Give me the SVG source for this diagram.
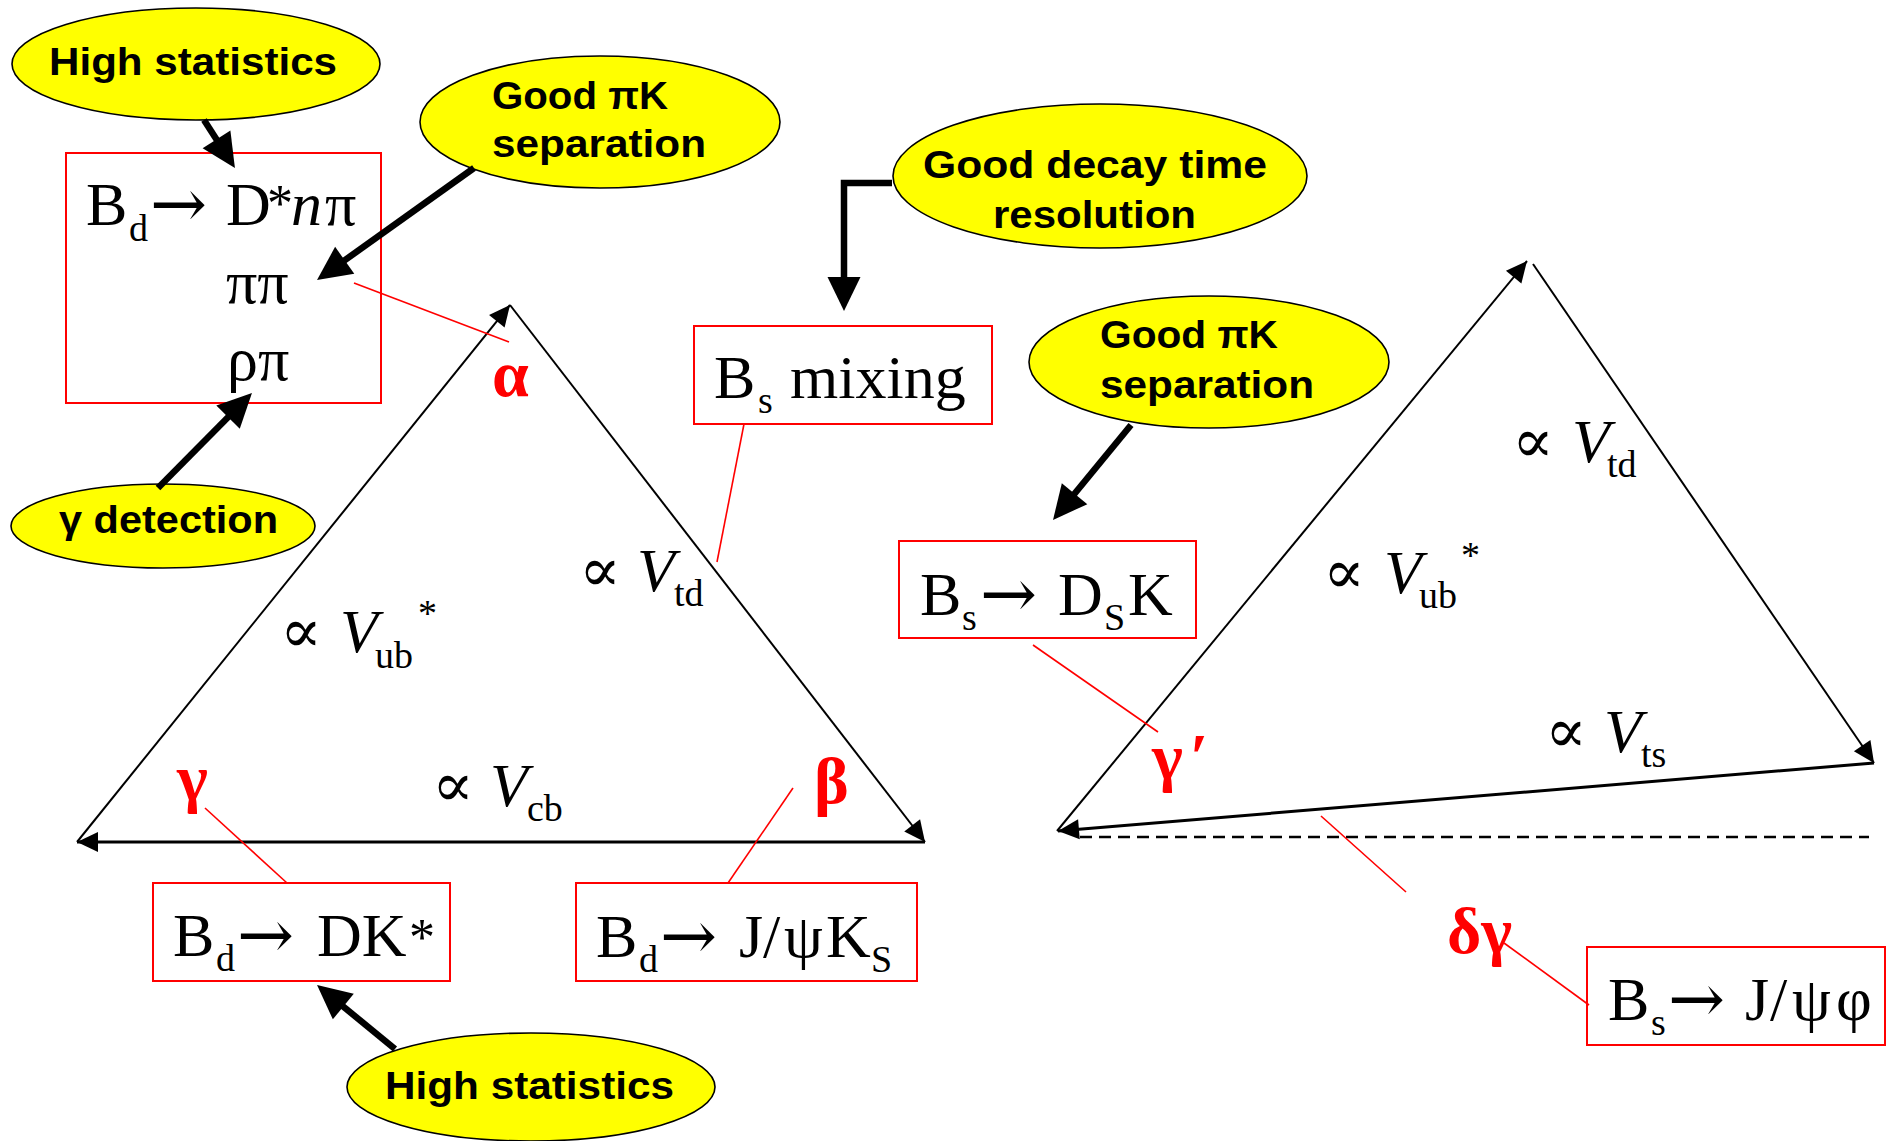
<svg xmlns="http://www.w3.org/2000/svg" width="1886" height="1141" viewBox="0 0 1886 1141">
<style>
.ell{fill:#ffff00;stroke:#000;stroke-width:1.6}
.lbl{font-family:"Liberation Sans",Arial,sans-serif;font-weight:bold;font-size:38px;fill:#000}
.box{fill:#fff;stroke:#ff0000;stroke-width:2}
.tm{font-family:"Liberation Serif","DejaVu Serif",serif;font-size:62px;fill:#000}
.arr{font-family:"DejaVu Serif","Liberation Serif",serif;font-size:68px}
.sub{font-size:38px}
.ast{font-size:52px}
.it{font-style:italic}
.red{font-family:"Liberation Serif","DejaVu Serif",serif;font-weight:bold;font-size:66px;fill:#ff0000}
.big{stroke:#000;stroke-width:6.5;fill:none;marker-end:url(#bigHead)}
.tri{stroke:#000;stroke-width:2;fill:none;marker-end:url(#thinHead)}
.base{stroke:#000;stroke-width:3;fill:none;marker-end:url(#thinHead)}
.rl{stroke:#ff0000;stroke-width:1.6;fill:none}
</style>
<defs>
<marker id="bigHead" markerUnits="userSpaceOnUse" markerWidth="34" markerHeight="33" viewBox="0 0 34 33" refX="14" refY="16.5" orient="auto" overflow="visible"><path d="M0,0 L34,16.5 L0,33 z" fill="#000"/></marker>
<marker id="thinHead" markerUnits="userSpaceOnUse" markerWidth="21" markerHeight="20" viewBox="0 0 21 20" refX="21" refY="10" orient="auto" overflow="visible"><path d="M0,0 L21,10 L0,20 z" fill="#000"/></marker>
</defs>
<rect width="1886" height="1141" fill="#fff"/>

<g id="triangle-bd">
<line class="tri" x1="77" y1="842" x2="510" y2="305"/>
<line class="tri" x1="510" y1="305" x2="925" y2="842"/>
<line class="base" x1="925" y1="842" x2="77" y2="842"/>
<text class="tm" y="591"><tspan x="579">∝</tspan><tspan x="637" class="it">V</tspan><tspan x="674" y="606" class="sub">td</tspan></text>
<text class="tm" y="652"><tspan x="280">∝</tspan><tspan x="340" class="it">V</tspan><tspan x="375" y="668" class="sub">ub</tspan><tspan x="418" y="626" class="sub">*</tspan></text>
<text class="tm" y="806"><tspan x="432">∝</tspan><tspan x="490" class="it">V</tspan><tspan x="527" y="821" class="sub">cb</tspan></text>
<text class="red" x="492" y="396">α</text>
<text class="red" x="177" y="800">γ</text>
<text class="red" x="814" y="803">β</text>
</g>

<g id="triangle-bs">
<line class="tri" x1="1057" y1="831" x2="1527" y2="261"/>
<line class="tri" x1="1533" y1="264" x2="1874" y2="763"/>
<line class="base" x1="1874" y1="763" x2="1058" y2="831"/>
<line x1="1080" y1="837" x2="1869" y2="837" stroke="#000" stroke-width="2.5" stroke-dasharray="12,7"/>
<text class="tm" y="462"><tspan x="1512">∝</tspan><tspan x="1572" class="it">V</tspan><tspan x="1607" y="477" class="sub">td</tspan></text>
<text class="tm" y="593"><tspan x="1323">∝</tspan><tspan x="1384" class="it">V</tspan><tspan x="1419" y="608" class="sub">ub</tspan><tspan x="1461" y="568" class="sub">*</tspan></text>
<text class="tm" y="752"><tspan x="1545">∝</tspan><tspan x="1604" class="it">V</tspan><tspan x="1641" y="767" class="sub">ts</tspan></text>
<text class="red" x="1152" y="779">γ<tspan x="1190">′</tspan></text>
<text class="red" x="1447" y="953">δγ</text>
</g>

<g id="box-bd-dstar">
<rect class="box" x="66" y="153" width="315" height="250"/>
<text class="tm" y="225"><tspan x="86">B</tspan><tspan x="129" y="241" class="sub">d</tspan><tspan x="150" y="227" class="arr">→</tspan><tspan x="226" y="225">D</tspan><tspan x="267" y="221" class="ast">*</tspan><tspan x="291" y="225" class="it">n</tspan><tspan x="325">π</tspan><tspan x="226" y="303">ππ</tspan><tspan x="227" y="380">ρπ</tspan></text>
</g>

<g id="box-bs-mixing">
<rect class="box" x="694" y="326" width="298" height="98"/>
<text class="tm" y="398"><tspan x="714">B</tspan><tspan x="758" y="413" class="sub">s</tspan><tspan x="790" y="398">mixing</tspan></text>
</g>

<g id="box-bd-dk">
<rect class="box" x="153" y="883" width="297" height="98"/>
<text class="tm" y="956"><tspan x="173">B</tspan><tspan x="216" y="971" class="sub">d</tspan><tspan x="237" y="958" class="arr">→</tspan><tspan x="317" y="956">DK</tspan><tspan x="409" y="955" class="ast">*</tspan></text>
</g>

<g id="box-bd-jpsiks">
<rect class="box" x="576" y="883" width="341" height="98"/>
<text class="tm" y="957"><tspan x="596">B</tspan><tspan x="639" y="972" class="sub">d</tspan><tspan x="660" y="959" class="arr">→</tspan><tspan x="739" y="957">J</tspan><tspan x="763">/</tspan><tspan x="784">ψ</tspan><tspan x="826">K</tspan><tspan x="871" y="972" class="sub">S</tspan></text>
</g>

<g id="box-bs-dsk">
<rect class="box" x="899" y="541" width="297" height="97"/>
<text class="tm" y="615"><tspan x="920">B</tspan><tspan x="962" y="630" class="sub">s</tspan><tspan x="980" y="617" class="arr">→</tspan><tspan x="1058" y="615">D</tspan><tspan x="1104" y="630" class="sub">S</tspan><tspan x="1128" y="615">K</tspan></text>
</g>

<g id="box-bs-jpsiphi">
<rect class="box" x="1587" y="947" width="298" height="98"/>
<text class="tm" y="1020"><tspan x="1608">B</tspan><tspan x="1651" y="1035" class="sub">s</tspan><tspan x="1668" y="1022" class="arr">→</tspan><tspan x="1745" y="1020">J</tspan><tspan x="1770">/</tspan><tspan x="1792">ψ</tspan><tspan x="1836">φ</tspan></text>
</g>

<g id="ell-high-stat-top">
<ellipse class="ell" cx="196" cy="64" rx="184" ry="56"/>
<text class="lbl" x="49" y="75" textLength="288" lengthAdjust="spacingAndGlyphs">High statistics</text>
</g>
<g id="ell-pik-left">
<ellipse class="ell" cx="600" cy="122" rx="180" ry="66"/>
<text class="lbl" x="492" y="109" textLength="176" lengthAdjust="spacingAndGlyphs">Good πK</text>
<text class="lbl" x="492" y="157" textLength="214" lengthAdjust="spacingAndGlyphs">separation</text>
</g>
<g id="ell-gamma-det">
<ellipse class="ell" cx="163" cy="526" rx="152" ry="42"/>
<text class="lbl" x="59" y="533" textLength="219" lengthAdjust="spacingAndGlyphs">γ detection</text>
</g>
<g id="ell-decay-time">
<ellipse class="ell" cx="1100" cy="176" rx="207" ry="72"/>
<text class="lbl" x="923" y="178" textLength="344" lengthAdjust="spacingAndGlyphs">Good decay time</text>
<text class="lbl" x="993" y="228" textLength="203" lengthAdjust="spacingAndGlyphs">resolution</text>
</g>
<g id="ell-pik-right">
<ellipse class="ell" cx="1209" cy="362" rx="180" ry="66"/>
<text class="lbl" x="1100" y="348" textLength="178" lengthAdjust="spacingAndGlyphs">Good πK</text>
<text class="lbl" x="1100" y="398" textLength="214" lengthAdjust="spacingAndGlyphs">separation</text>
</g>
<g id="ell-high-stat-bottom">
<ellipse class="ell" cx="531" cy="1087" rx="184" ry="54"/>
<text class="lbl" x="385" y="1099" textLength="289" lengthAdjust="spacingAndGlyphs">High statistics</text>
</g>

<g id="connectors">
<line class="big" x1="204" y1="120" x2="224.1" y2="151.2"/>
<line class="big" x1="474" y1="168" x2="333.3" y2="268.4"/>
<line class="big" x1="158" y1="488" x2="237.9" y2="407.2"/>
<polyline class="big" points="892,183 844,183 844,291"/>
<line class="big" x1="1131" y1="425" x2="1065.7" y2="504.5"/>
<line class="big" x1="395" y1="1049" x2="332.5" y2="997.7"/>
<line class="rl" x1="354" y1="283" x2="509" y2="342"/>
<line class="rl" x1="744" y1="424" x2="717" y2="562"/>
<line class="rl" x1="205" y1="808" x2="287" y2="883"/>
<line class="rl" x1="793" y1="788" x2="728" y2="883"/>
<line class="rl" x1="1033" y1="645" x2="1158" y2="732"/>
<line class="rl" x1="1321" y1="816" x2="1406" y2="892"/>
<line class="rl" x1="1504" y1="943" x2="1589" y2="1005"/>
</g>
</svg>
